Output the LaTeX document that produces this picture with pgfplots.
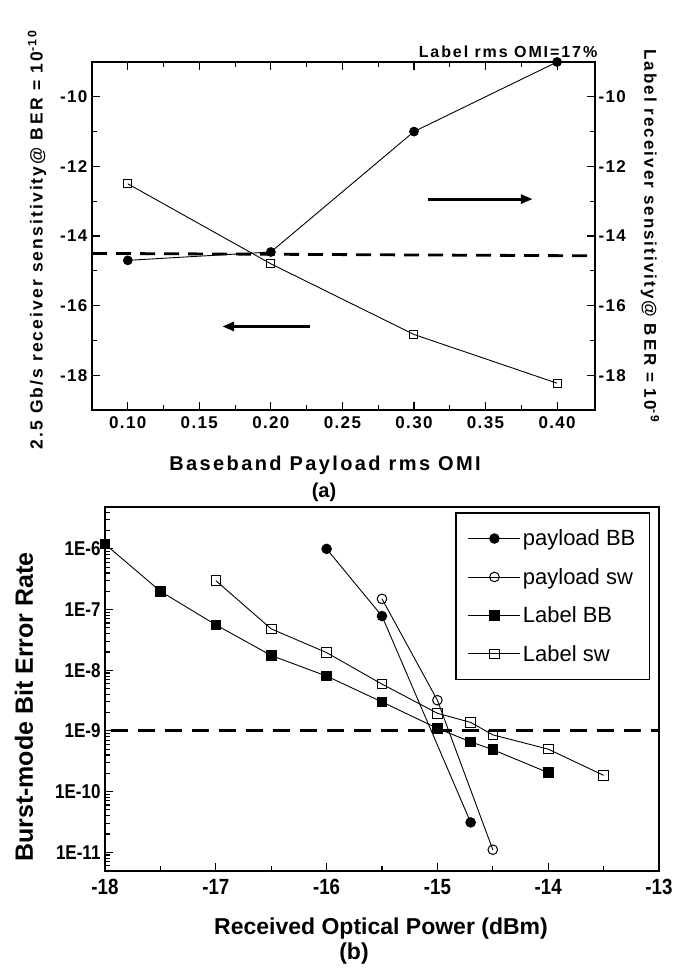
\documentclass[border=0pt]{standalone}
\usepackage{fontspec}
\setmainfont{Liberation Sans}
\newfontfamily\spc[LetterSpace=12]{Liberation Sans}
\newfontfamily\spt[LetterSpace=8]{Liberation Sans}
\newfontfamily\cnd[FakeStretch=0.85]{Liberation Sans}
\usepackage{pgfplots}
\pgfplotsset{compat=1.18}
\usetikzlibrary{arrows.meta}

\pgfplotsset{
  topax/.style={
    scale only axis, width=503pt, height=348pt,
    xmin=0.075, xmax=0.4265, ymin=-19, ymax=-9,
    tick align=inside,
    axis line style={line width=1.4pt},
    every tick/.style={black, line width=1.1pt},
    major tick length=8pt, minor tick length=5pt,
    ytick={-18,-16,-14,-12,-10},
    yticklabels={-18,-16,-14,-12,-10},
    minor y tick num=1,
    tick label style={font=\spt\bfseries\fontsize{17}{19}\selectfont},
  },
}

\begin{document}
\begin{tikzpicture}
\useasboundingbox (0,0) rectangle (673pt,969pt);

% ---------------- (a) ----------------
\begin{axis}[
  topax,
  at={(92pt,559pt)}, anchor=south west,
  tick pos=both,
  xtick={0.10,0.15,0.20,0.25,0.30,0.35,0.40},
  xticklabels={0.10,0.15,0.20,0.25,0.30,0.35,0.40},
  minor x tick num=1,
  xticklabel style={yshift=-3pt},
  yticklabel style={xshift=-1pt},
  clip=false,
]
% label sensitivity (right axis, same scale)
\addplot[black, line width=0.9pt, mark=*, mark size=4.4pt]
  coordinates {(0.10,-14.7) (0.20,-14.46) (0.30,-11.0) (0.40,-9.0)};
% payload sensitivity (left axis)
\addplot[black, line width=0.9pt, mark=square, mark size=4pt,
         mark options={fill=white, line width=1pt}]
  coordinates {(0.10,-12.5) (0.20,-14.8) (0.30,-16.83) (0.40,-18.23)};
\addplot[black, line width=2.8pt, dash pattern=on 15pt off 9pt]
  coordinates {(0.075,-14.5) (0.4265,-14.57)};
\draw[-{Triangle[length=12pt,width=9pt]}, line width=3pt]
  (axis cs:0.31,-12.94) -- (axis cs:0.383,-12.94);
\draw[-{Triangle[length=12pt,width=9pt]}, line width=3pt]
  (axis cs:0.227,-16.6) -- (axis cs:0.166,-16.6);
\end{axis}

\begin{axis}[
  topax,
  at={(92pt,559pt)}, anchor=south west,
  axis y line*=right, axis x line=none,
  yticklabel style={xshift=0pt},
]
\end{axis}

\node[font=\spc\bfseries\fontsize{16}{18}\selectfont] at (508pt,917pt)
  {Label rms OMI=17\%};
\node[rotate=90, font=\spc\bfseries\fontsize{17.5}{20}\selectfont] at (37pt,729pt)
  {2.5 Gb/s receiver sensitivity@ B\,E\,R = 10\textsuperscript{-10}};
\node[rotate=-90, font=\spc\bfseries\fontsize{17}{20}\selectfont] at (650pt,733pt)
  {Label receiver sensitivity@ B\,E\,R = 10\textsuperscript{-9}};
\node[font=\spc\bfseries\fontsize{20}{24}\selectfont] at (325pt,504pt)
  {Baseband Payload rms OMI};
\node[font=\bfseries\fontsize{20}{24}\selectfont] at (324pt,477pt) {(a)};

% ---------------- (b) ----------------
\begin{axis}[
  at={(105pt,98pt)}, anchor=south west,
  scale only axis, width=554pt, height=364pt,
  xmin=-18, xmax=-13,
  ymode=log, ymin=4.9e-12, ymax=4.9e-6,
  tick align=inside, tick pos=left,
  axis line style={line width=1.6pt},
  every tick/.style={black, line width=1.1pt},
  major tick length=8pt, minor tick length=5pt,
  xtick={-18,-17,-16,-15,-14,-13},
  xticklabels={-18,-17,-16,-15,-14,-13},
  minor x tick num=1,
  ytick={1e-11,1e-10,1e-9,1e-8,1e-7,1e-6},
  yticklabels={1E-11,1E-10,1E-9,1E-8,1E-7,1E-6},
  minor ytick={2e-12,3e-12,4e-12,5e-12,6e-12,7e-12,8e-12,9e-12,
    2e-11,3e-11,4e-11,5e-11,6e-11,7e-11,8e-11,9e-11,
    2e-10,3e-10,4e-10,5e-10,6e-10,7e-10,8e-10,9e-10,
    2e-9,3e-9,4e-9,5e-9,6e-9,7e-9,8e-9,9e-9,
    2e-8,3e-8,4e-8,5e-8,6e-8,7e-8,8e-8,9e-8,
    2e-7,3e-7,4e-7,5e-7,6e-7,7e-7,8e-7,9e-7,
    2e-6,3e-6,4e-6},
  xticklabel style={font=\cnd\bfseries\fontsize{22}{24}\selectfont, yshift=-5pt},
  yticklabel style={font=\cnd\bfseries\fontsize{20}{22}\selectfont, xshift=-1pt},
  legend style={at={(0.984,0.986)}, anchor=north east,
    draw=black, line width=1.4pt, fill=white,
    font=\fontsize{22}{26}\selectfont,
    row sep=17pt, inner xsep=12pt, inner ysep=15pt,
    legend cell align=left},
  legend image code/.code={%
    \draw[mark repeat=2, mark phase=2, #1]
      plot coordinates {(0pt,0pt) (26pt,0pt) (52pt,0pt)};},
  clip=false,
]
\addplot[black, line width=0.9pt, mark=*, mark size=4.8pt]
  coordinates {(-16,1e-6) (-15.5,7.8e-8) (-14.7,3.1e-11)};
\addplot[black, line width=0.9pt, mark=o, mark size=4.8pt,
         mark options={fill=white, line width=1pt}]
  coordinates {(-15.5,1.5e-7) (-15,3.2e-9) (-14.5,1.1e-11)};
\addplot[black, line width=0.9pt, mark=square*, mark size=4.8pt]
  coordinates {(-18,1.2e-6) (-17.5,2e-7) (-17,5.6e-8) (-16.5,1.75e-8)
    (-16,8e-9) (-15.5,3e-9) (-15,1.1e-9) (-14.7,6.6e-10) (-14.5,4.9e-10)
    (-14,2.05e-10)};
\addplot[black, line width=0.9pt, mark=square, mark size=4.8pt,
         mark options={fill=white, line width=1pt}]
  coordinates {(-17,3e-7) (-16.5,4.8e-8) (-16,1.95e-8) (-15.5,5.9e-9)
    (-15,1.95e-9) (-14.7,1.38e-9) (-14.5,8.6e-10) (-14,5e-10) (-13.5,1.85e-10)};
\addplot[black, line width=2.8pt, dash pattern=on 17pt off 10pt, forget plot]
  coordinates {(-17.95,1e-9) (-13,1e-9)};
\legend{payload BB, payload sw, Label BB, Label sw}
\end{axis}

\node[rotate=90, font=\bfseries\fontsize{25}{30}\selectfont] at (24pt,262pt)
  {Burst-mode Bit Error Rate};
\node[font=\bfseries\fontsize{23}{27}\selectfont] at (381pt,40pt)
  {Received Optical Power (dBm)};
\node[font=\bfseries\fontsize{23}{27}\selectfont] at (354pt,15pt) {(b)};
\end{tikzpicture}
\end{document}
